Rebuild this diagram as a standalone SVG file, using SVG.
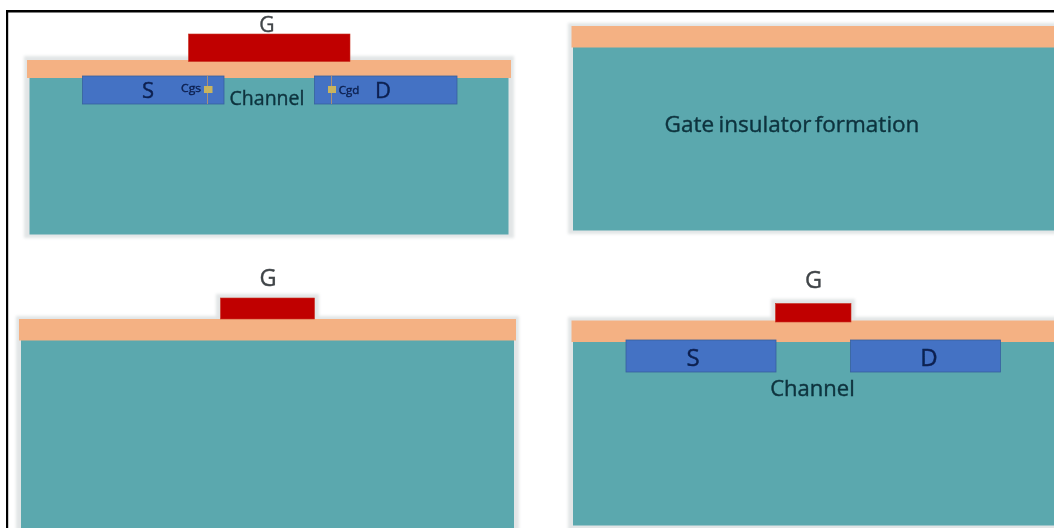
<svg xmlns="http://www.w3.org/2000/svg" width="1054" height="528" viewBox="0 0 1054 528">
<style>
.glow{fill:#e2e5e6;filter:url(#g2)}
.ins{fill:#f4b183}
.sub{fill:#5ba8ae}
.gate{fill:#c00000;stroke:#c8301f;stroke-width:.6}
.sd{fill:#4472c4;stroke:#38609f;stroke-width:.8}
.cap{fill:#c9b45e}
.capl{stroke:#a98f78;stroke-width:1}
text{font-family:"Open Sans","Noto Sans","Liberation Sans",sans-serif;filter:url(#g1);text-anchor:middle;stroke-width:.4}
.dark{fill:#0b323d;stroke:#0b323d}
.navy{fill:#0a2050;stroke:#0a2050}
.g{fill:#404548;stroke:#404548}
</style>
<defs>
<filter id="g1" x="-10%" y="-20%" width="120%" height="140%"><feGaussianBlur stdDeviation="0.45"/></filter>
<filter id="g2" x="-5%" y="-10%" width="110%" height="120%"><feGaussianBlur stdDeviation="1.4"/></filter>
</defs>
<rect width="1054" height="528" fill="#fff"/>
<g id="panel-top-left">
<rect class="glow" x="24" y="56" width="490" height="182"/>
<rect class="sub" x="29.500" y="78" width="479" height="156.500"/>
<rect class="ins" x="27" y="60" width="484" height="18"/>
<g id="tl-gate"><rect class="gate" x="188.500" y="34" width="161.500" height="27.500"/><text class="g" x="267" y="32" font-size="21">G</text></g>
<g id="tl-source"><rect class="sd" x="82.500" y="76" width="141.500" height="28"/><text class="navy" x="148" y="98" font-size="22">S</text>
<line class="capl" x1="207.500" y1="76" x2="207.500" y2="104"/><rect class="cap" x="204" y="86" width="8.500" height="7"/><text class="navy" x="191" y="92" font-size="11" textLength="20" lengthAdjust="spacingAndGlyphs">Cgs</text></g>
<g id="tl-drain"><rect class="sd" x="314.500" y="76" width="142.500" height="28"/><text class="navy" x="383" y="98" font-size="22">D</text>
<line class="capl" x1="331.500" y1="76" x2="331.500" y2="104"/><rect class="cap" x="328" y="86" width="8" height="7"/><text class="navy" x="349" y="94" font-size="11.500">Cgd</text></g>
<text id="tl-channel" class="dark" x="267" y="105" font-size="19.500">Channel</text>
</g>
<g id="panel-top-right">
<rect class="glow" x="568" y="23" width="500" height="211"/>
<rect class="sub" x="573" y="47" width="481" height="183.500"/>
<rect class="ins" x="571.500" y="26" width="482.500" height="21.500"/>
<text class="dark" x="792" y="132" font-size="22.500" word-spacing="-1.500">Gate insulator <tspan dx="-1">formation</tspan></text>
</g>
<g id="panel-bottom-left">
<rect class="glow" x="16" y="316" width="503" height="220"/>
<rect class="glow" x="216" y="294" width="103" height="28"/>
<rect class="sub" x="21" y="340" width="493" height="188"/>
<rect class="ins" x="19" y="319" width="497" height="21.500"/>
<g id="bl-gate"><rect class="gate" x="220.500" y="298" width="94" height="21"/><text class="g" x="268" y="285.500" font-size="23.500">G</text></g>
</g>
<g id="panel-bottom-right">
<rect class="glow" x="568" y="317" width="500" height="215"/>
<rect class="glow" x="771" y="299" width="84" height="26"/>
<rect class="sub" x="573" y="342" width="481" height="183.500"/>
<rect class="ins" x="571.500" y="320.500" width="482.500" height="21.500"/>
<g id="br-gate"><rect class="gate" x="775.500" y="303.500" width="75.500" height="18.500"/><text class="g" x="813.500" y="288" font-size="23.500">G</text></g>
<g id="br-source"><rect class="sd" x="626" y="340" width="150" height="32"/><text class="navy" x="693" y="365.500" font-size="24">S</text></g>
<g id="br-drain"><rect class="sd" x="850.500" y="340" width="150" height="32"/><text class="navy" x="929" y="365.500" font-size="24">D</text></g>
<text id="br-channel" class="dark" x="812.500" y="396" font-size="22">Channel</text>
</g>
<g id="frame" fill="#000"><rect x="6" y="10" width="1048" height="2.500"/><rect x="6" y="10" width="2.200" height="518"/></g>
</svg>
